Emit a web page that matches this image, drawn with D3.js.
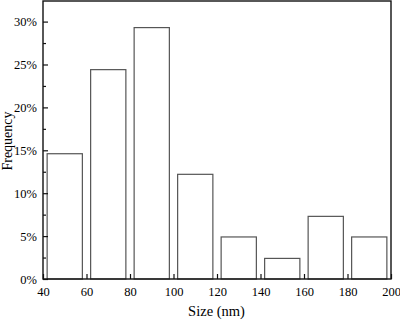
<!DOCTYPE html>
<html>
<head>
<meta charset="utf-8">
<script src="https://cdn.jsdelivr.net/npm/d3@7/dist/d3.min.js"></script>
<style>
  html, body { margin: 0; padding: 0; background: #fff; }
  svg text { font-family: "Liberation Serif", "Times New Roman", serif; fill: #000; }
</style>
</head>
<body>
<div class="container-hist"></div>
<script>
// size bins (nm) and frequency (%)
const binStarts = [40, 60, 80, 100, 120, 140, 160, 180];
const binWidth = 20;
const frequencies = [14.6, 24.4, 29.3, 12.2, 4.9, 2.4, 7.3, 4.9];
const xTicks = [40, 60, 80, 100, 120, 140, 160, 180, 200];
const yTicks = [0, 5, 10, 15, 20, 25, 30];
const yMinorTicks = [2.5, 7.5, 12.5, 17.5, 22.5, 27.5, 32.5];

const width = 400;
const height = 321;
const margin = { top: 1, right: 9, bottom: 42, left: 43 };
const innerW = width - margin.left - margin.right;
const innerH = height - margin.top - margin.bottom;

const scaleX = d3.scaleLinear()
  .domain([40, 200])
  .range([0, innerW]);

const scaleY = d3.scaleLinear()
  .domain([0, 32.4])
  .range([innerH, 0]);

const svg = d3.select('.container-hist')
  .append('svg')
  .attr('width', width)
  .attr('height', height);

const groupMain = svg.append('g')
  .attr('transform', `translate(${margin.left}, ${margin.top})`);

// bars, with a small gap inside each bin
const gap = 1.9;
groupMain.selectAll('rect.bar')
  .data(binStarts)
  .enter()
  .append('rect')
  .attr('class', 'bar')
  .attr('x', d => scaleX(d + gap))
  .attr('width', d => scaleX(d + binWidth - gap) - scaleX(d + gap))
  .attr('y', (d, i) => scaleY(frequencies[i]))
  .attr('height', (d, i) => innerH - scaleY(frequencies[i]))
  .attr('fill', 'none')
  .attr('stroke', '#555')
  .attr('stroke-width', 1.2);

// frame
groupMain.append('rect')
  .attr('x', 0)
  .attr('y', 0)
  .attr('width', innerW)
  .attr('height', innerH)
  .attr('fill', 'none')
  .attr('stroke', '#111')
  .attr('stroke-width', 1.4);

const axisX = d3.axisBottom(scaleX)
  .tickValues(xTicks)
  .tickSizeInner(-5)
  .tickSizeOuter(0)
  .tickPadding(8)
  .tickFormat(d3.format('d'));

const axisY = d3.axisLeft(scaleY)
  .tickValues(yTicks)
  .tickSizeInner(-5)
  .tickSizeOuter(0)
  .tickPadding(6)
  .tickFormat(d => d + '%');

const axisYMinor = d3.axisLeft(scaleY)
  .tickValues(yMinorTicks.filter(v => v < 32.4))
  .tickSizeInner(-3)
  .tickSizeOuter(0)
  .tickFormat('');

const gx = groupMain.append('g')
  .attr('transform', `translate(0, ${innerH})`)
  .call(axisX);

const gy = groupMain.append('g').call(axisY);
const gyMinor = groupMain.append('g').call(axisYMinor);

[gx, gy, gyMinor].forEach(g => {
  g.select('.domain').remove();
  g.selectAll('line').attr('stroke', '#111').attr('stroke-width', 1.2);
  g.selectAll('text')
    .attr('font-family', '"Liberation Serif", "Times New Roman", serif')
    .attr('font-size', 12.5)
    .attr('fill', '#000');
});

svg.append('text')
  .attr('x', 216.5)
  .attr('y', 316)
  .attr('text-anchor', 'middle')
  .attr('font-size', 14.5)
  .text('Size (nm)');

svg.append('text')
  .attr('transform', `translate(11.5, 141) rotate(-90)`)
  .attr('text-anchor', 'middle')
  .attr('font-size', 14)
  .text('Frequency');
</script>
</body>
</html>
